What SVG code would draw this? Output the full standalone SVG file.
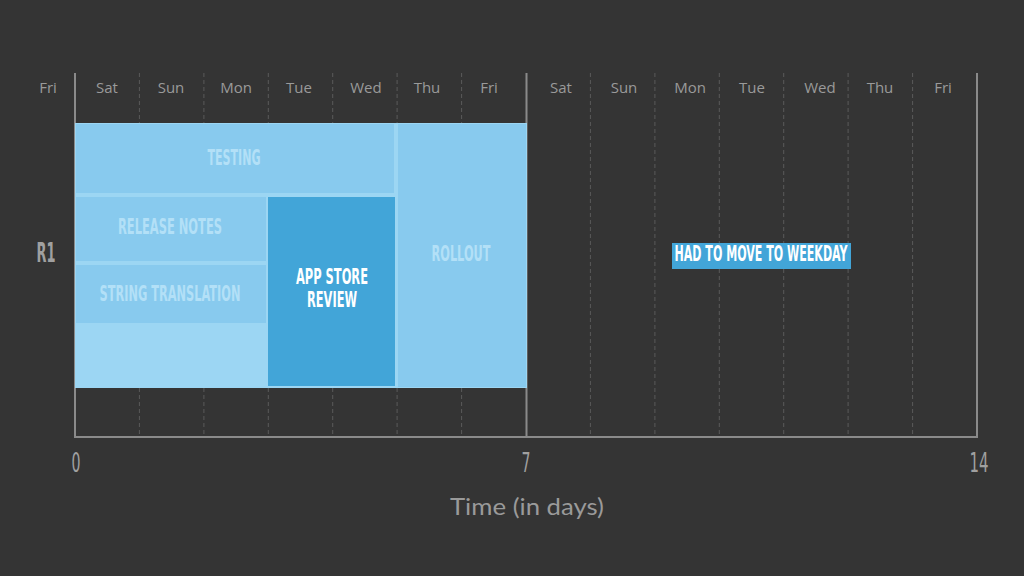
<svg xmlns="http://www.w3.org/2000/svg" width="1024" height="576" viewBox="0 0 1024 576">
<style>
.day{font-family:"Open Sans","Noto Sans",sans-serif;font-size:15px;fill:#9a9a9a;text-anchor:middle}
.grid{stroke:#5a5a5a;stroke-width:1;stroke-dasharray:4 3}
.axis{stroke:#8a8a8a;stroke-width:2}
.lbl{font-family:"Liberation Sans Narrow","DejaVu Sans Condensed",sans-serif;font-weight:bold;font-size:21px;text-anchor:middle}
.soft{fill:#b3e0f7}
.white{fill:#ffffff}
.num{font-family:"Liberation Sans Narrow","DejaVu Sans Condensed",sans-serif;font-size:26px;fill:#a0a0a0;text-anchor:middle}
.task{fill:#88caee}
</style>
<rect width="1024" height="576" fill="#343434"/>
<g id="grid">
<line class="grid" x1="139.4" y1="73" x2="139.4" y2="437"/>
<line class="grid" x1="203.9" y1="73" x2="203.9" y2="437"/>
<line class="grid" x1="268.3" y1="73" x2="268.3" y2="437"/>
<line class="grid" x1="332.7" y1="73" x2="332.7" y2="437"/>
<line class="grid" x1="397.1" y1="73" x2="397.1" y2="437"/>
<line class="grid" x1="461.6" y1="73" x2="461.6" y2="437"/>
<line class="grid" x1="590.4" y1="73" x2="590.4" y2="437"/>
<line class="grid" x1="654.9" y1="73" x2="654.9" y2="437"/>
<line class="grid" x1="719.3" y1="73" x2="719.3" y2="437"/>
<line class="grid" x1="783.7" y1="73" x2="783.7" y2="437"/>
<line class="grid" x1="848.1" y1="73" x2="848.1" y2="437"/>
<line class="grid" x1="912.6" y1="73" x2="912.6" y2="437"/>
<line class="axis" x1="75" y1="73" x2="75" y2="438"/>
<line class="axis" x1="526.5" y1="73" x2="526.5" y2="438"/>
<line class="axis" x1="977" y1="73" x2="977" y2="438"/>
<line class="axis" x1="74" y1="437" x2="978" y2="437"/>
</g>
<g id="days">
<text class="day" x="48" y="93">Fri</text>
<text class="day" x="107" y="93">Sat</text>
<text class="day" x="171" y="93">Sun</text>
<text class="day" x="236" y="93">Mon</text>
<text class="day" x="299" y="93">Tue</text>
<text class="day" x="366" y="93">Wed</text>
<text class="day" x="427" y="93">Thu</text>
<text class="day" x="489" y="93">Fri</text>
<text class="day" x="561" y="93">Sat</text>
<text class="day" x="624" y="93">Sun</text>
<text class="day" x="690" y="93">Mon</text>
<text class="day" x="752" y="93">Tue</text>
<text class="day" x="820" y="93">Wed</text>
<text class="day" x="880" y="93">Thu</text>
<text class="day" x="943" y="93">Fri</text>
</g>
<g id="release">
<rect x="75" y="123" width="452" height="265" fill="#9cd6f3"/>
</g>
<g id="testing">
<rect class="task" x="76" y="124" width="318" height="69"/>
<text class="lbl soft" x="234" y="165" textLength="53" lengthAdjust="spacingAndGlyphs">TESTING</text>
</g>
<g id="release-notes">
<rect class="task" x="76" y="197" width="190" height="64"/>
<text class="lbl soft" x="170" y="234" textLength="104" lengthAdjust="spacingAndGlyphs">RELEASE NOTES</text>
</g>
<g id="string-translation">
<rect class="task" x="76" y="265" width="190" height="58"/>
<text class="lbl soft" x="170" y="301" textLength="141" lengthAdjust="spacingAndGlyphs">STRING TRANSLATION</text>
</g>
<g id="app-store-review">
<rect x="268" y="197" width="127" height="189" fill="#42a5d8"/>
<text class="lbl white" x="332" y="284" font-size="18" textLength="72" lengthAdjust="spacingAndGlyphs">APP STORE</text>
<text class="lbl white" x="332" y="307" font-size="18" textLength="50" lengthAdjust="spacingAndGlyphs">REVIEW</text>
</g>
<g id="rollout">
<rect class="task" x="398" y="124" width="128" height="263"/>
<text class="lbl soft" x="461" y="261" textLength="59" lengthAdjust="spacingAndGlyphs">ROLLOUT</text>
</g>
<g id="note">
<rect x="672" y="243" width="179" height="26" fill="#42a5d8"/>
<text class="lbl white" x="761" y="261" font-size="20" textLength="173" lengthAdjust="spacingAndGlyphs">HAD TO MOVE TO WEEKDAY</text>
</g>
<g id="labels">
<text class="num" x="46" y="262" font-weight="bold" textLength="19" lengthAdjust="spacingAndGlyphs">R1</text>
<text class="num" x="76" y="472" textLength="9" lengthAdjust="spacingAndGlyphs">0</text>
<text class="num" x="526" y="472" textLength="9" lengthAdjust="spacingAndGlyphs">7</text>
<text class="num" x="979" y="472" textLength="19" lengthAdjust="spacingAndGlyphs">14</text>
<text x="527" y="515" font-family="Lato,'Open Sans',sans-serif" font-size="23" fill="#9a9a9a" text-anchor="middle" textLength="154" lengthAdjust="spacingAndGlyphs">Time (in days)</text>
</g>
</svg>
